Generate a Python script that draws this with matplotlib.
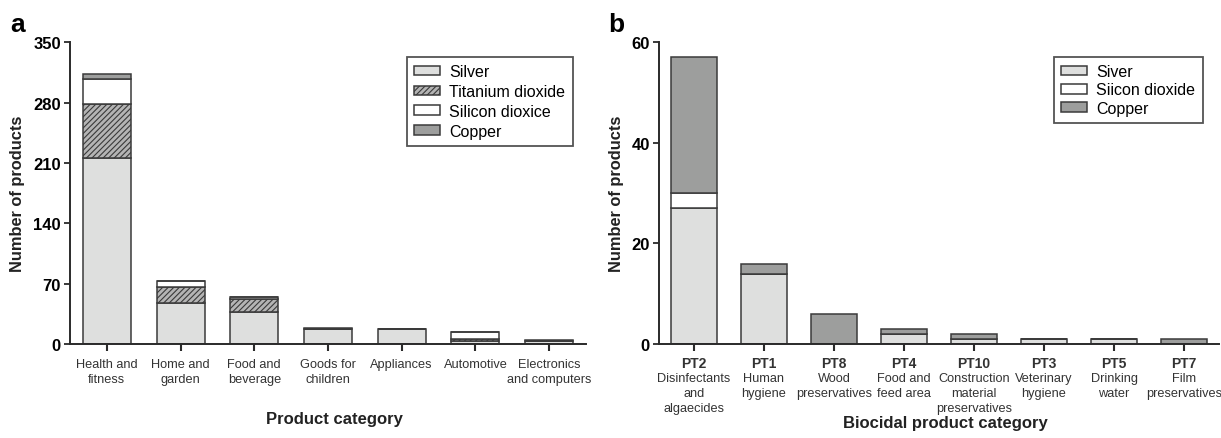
import matplotlib
matplotlib.use("Agg")
import matplotlib.pyplot as plt
import numpy as np

plt.rcParams['font.family'] = ['Liberation Sans', 'DejaVu Sans']
plt.rcParams['hatch.linewidth'] = 0.8

# Panel a: products by consumer category and nanomaterial
cats_a = ["Health and\nfitness", "Home and\ngarden", "Food and\nbeverage",
          "Goods for\nchildren", "Appliances", "Automotive",
          "Electronics\nand computers"]
silver_a = [216, 47, 37, 17, 17, 3, 4]
tio2_a = [62, 19, 15, 0, 0, 3, 0]
sio2_a = [30, 7, 3, 0, 0, 8, 0]
copper_a = [5, 0, 0, 1, 0, 0, 1]
yticks_a = [0, 70, 140, 210, 280, 350]

# Panel b: biocidal product types
codes_b = ["PT2", "PT1", "PT8", "PT4", "PT10", "PT3", "PT5", "PT7"]
names_b = ["Disinfectants\nand\nalgaecides", "Human\nhygiene", "Wood\npreservatives",
           "Food and\nfeed area", "Construction\nmaterial\npreservatives",
           "Veterinary\nhygiene", "Drinking\nwater", "Film\npreservatives"]
silver_b = [27, 14, 0, 2, 1, 1, 1, 0]
sio2_b = [3, 0, 0, 0, 0, 0, 0, 0]
copper_b = [27, 2, 6, 1, 1, 0, 0, 1]
yticks_b = [0, 20, 40, 60]

W, H = 1221, 439
fig = plt.figure(figsize=(W / 100, H / 100), dpi=100)

EDGE = "#3a3a3a"
SILVER = "#dedfde"
TIO2 = "#b4b4b4"
SIO2 = "#ffffff"
COPPER = "#9d9e9d"
TICK_FS = 9.2


def px_axes(x0, x1, y0, y1):
    return fig.add_axes([x0 / W, 1 - y1 / H, (x1 - x0) / W, (y1 - y0) / H])


def style_axes(ax, ymax, yticks):
    ax.set_ylim(0, ymax)
    ax.set_yticks(yticks)
    for s in ("top", "right"):
        ax.spines[s].set_visible(False)
    for s in ("left", "bottom"):
        ax.spines[s].set_linewidth(1.4)
        ax.spines[s].set_color("#2a2a2a")
    ax.tick_params(axis="y", length=4.5, width=1.3, color="#2a2a2a",
                   labelsize=12, pad=2)
    ax.tick_params(axis="x", length=5, width=1.5, color="#2a2a2a",
                   labelsize=TICK_FS, labelcolor="#333333", pad=5)
    for t in ax.get_yticklabels():
        t.set_fontweight("bold")


def stack(ax, x, series, colors, hatches, labels, width):
    bottom = np.zeros(len(x))
    for vals, c, h, lab in zip(series, colors, hatches, labels):
        vals = np.asarray(vals, dtype=float)
        ax.bar(x, vals, width, bottom=bottom, color=c, edgecolor=EDGE,
               linewidth=1.1, hatch=h, label=lab)
        bottom += vals


def add_legend(ax, x0, y0, spacing):
    leg = ax.legend(loc="upper left", bbox_to_anchor=(x0 / W, 1 - y0 / H),
                    bbox_transform=fig.transFigure, fontsize=11.5,
                    frameon=True, fancybox=False, handlelength=1.6,
                    handleheight=0.55, handletextpad=0.6, labelspacing=spacing,
                    borderpad=0.45, borderaxespad=0)
    leg.get_frame().set_edgecolor("#2a2a2a")
    leg.get_frame().set_linewidth(1.3)
    return leg


# ---- panel a ----
ax_a = px_axes(70, 586, 43.3, 345)
xa = np.arange(len(cats_a))
stack(ax_a, xa, [silver_a, tio2_a, sio2_a, copper_a],
      [SILVER, TIO2, SIO2, COPPER], [None, "//////", None, None],
      ["Silver", "Titanium dioxide", "Silicon dioxice", "Copper"], 0.65)
ax_a.set_xlim(-0.5, 6.5)
ax_a.set_xticks(xa)
ax_a.set_xticklabels(cats_a, linespacing=1.3)
style_axes(ax_a, 350, yticks_a)
add_legend(ax_a, 407, 58, 0.3)

# ---- panel b ----
ax_b = px_axes(659, 1219, 43.3, 345)
xb = np.arange(len(codes_b))
stack(ax_b, xb, [silver_b, sio2_b, copper_b],
      [SILVER, SIO2, COPPER], [None, None, None],
      ["Siver", "Siicon dioxide", "Copper"], 0.66)
ax_b.set_xlim(-0.5, 7.5)
ax_b.set_xticks(xb)
ax_b.set_xticklabels([""] * len(xb))
style_axes(ax_b, 60, yticks_b)
for i, (code, name) in enumerate(zip(codes_b, names_b)):
    ax_b.annotate(code, xy=(i, 0), xycoords=("data", "axes fraction"),
                  xytext=(0, -9), textcoords="offset points",
                  ha="center", va="top", fontsize=10, fontweight="bold",
                  color="#333333")
    ax_b.annotate(name, xy=(i, 0), xycoords=("data", "axes fraction"),
                  xytext=(0, -20.5), textcoords="offset points",
                  ha="center", va="top", fontsize=TICK_FS, color="#333333",
                  linespacing=1.3)
add_legend(ax_b, 1054, 58, 0.2)

# ---- panel letters and axis titles ----
fig.text(10 / W, 1 - 32 / H, "a", fontsize=19, fontweight="bold", va="baseline")
fig.text(608 / W, 1 - 32 / H, "b", fontsize=19, fontweight="bold", va="baseline")
for xpix in (18, 617):
    fig.text(xpix / W, 1 - 194 / H, "Number of products", rotation=90,
             ha="center", va="center", fontsize=11.8, fontweight="bold",
             color="#222222")
fig.text(334 / W, 1 - 420 / H, "Product category", ha="center", va="center",
         fontsize=12, fontweight="bold", color="#222222")
fig.text(945 / W, 1 - 424 / H, "Biocidal product category", ha="center",
         va="center", fontsize=12, fontweight="bold", color="#222222")

fig.savefig("out.png", dpi=100, facecolor="white")
